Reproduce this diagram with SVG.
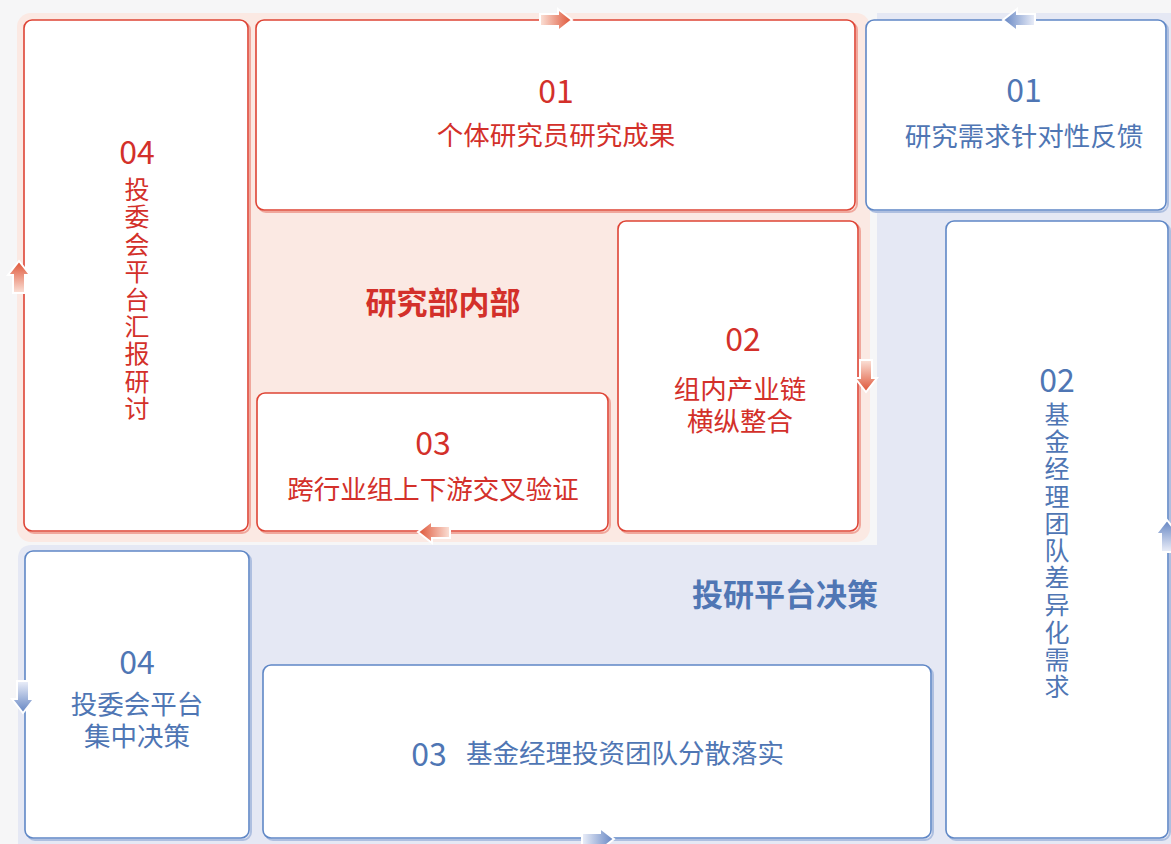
<svg xmlns="http://www.w3.org/2000/svg" width="1171" height="844" viewBox="0 0 1171 844">
<style>
.bg{fill:#f6f6f7}
.rpanel{fill:#fbe9e3}
.bpanel{fill:#e5e8f4}
.rnode{fill:#ffffff;stroke:#de4435;stroke-width:1.6}
.rsh{fill:none;stroke:#f0a79c;stroke-width:2}
.bnode{fill:#ffffff;stroke:#5f87c6;stroke-width:1.6}
.bsh{fill:none;stroke:#aebfe0;stroke-width:2}
.rt{fill:#d3302a;font-family:"Noto Sans CJK SC","Noto Sans",sans-serif;text-anchor:middle}
.bt{fill:#4f76b4;font-family:"Noto Sans CJK SC","Noto Sans",sans-serif;text-anchor:middle}
.num{font-size:32px}
.lbl{font-size:26.5px}
.vl{font-size:25px}
.ttl{font-size:31px;font-weight:700}
.rarrow{fill:url(#rg);stroke:#ffffff;stroke-width:2}
.barrow{fill:url(#bg2);stroke:#ffffff;stroke-width:2}
</style>
<defs>
<linearGradient id="rg" x1="0" y1="0" x2="1" y2="0">
<stop offset="0" stop-color="#fbe2d8"/>
<stop offset="1" stop-color="#de5234"/>
</linearGradient>
<linearGradient id="bg2" x1="0" y1="0" x2="1" y2="0">
<stop offset="0" stop-color="#eceff9"/>
<stop offset="1" stop-color="#6384c2"/>
</linearGradient>
<path id="arr" d="M-16,-6 H2 V-11 L16,0 L2,11 V6 H-16 Z"/>
</defs>
<rect class="bg" x="0" y="0" width="1171" height="844"/>
<path class="bpanel" d="M877,13 H1171 V844 H18 V559 Q18,545 32,545 H877 Z"/>
<rect class="rpanel" x="17" y="13" width="853" height="529" rx="14"/>

<g id="r04">
<rect class="rsh" x="26" y="22" width="224" height="511" rx="8"/>
<rect class="rnode" x="24" y="20" width="224" height="511" rx="8"/>
<text class="rt num" x="137" y="164">04</text>
<text class="rt vl" x="137" y="199"><tspan x="137">投</tspan><tspan x="137" dy="27.4">委</tspan><tspan x="137" dy="27.4">会</tspan><tspan x="137" dy="27.4">平</tspan><tspan x="137" dy="27.4">台</tspan><tspan x="137" dy="27.4">汇</tspan><tspan x="137" dy="27.4">报</tspan><tspan x="137" dy="27.4">研</tspan><tspan x="137" dy="27.4">讨</tspan></text>
</g>
<g id="r01">
<rect class="rsh" x="258" y="22" width="599" height="190" rx="8"/>
<rect class="rnode" x="256" y="20" width="599" height="190" rx="8"/>
<text class="rt num" x="556" y="103">01</text>
<text class="rt lbl" x="556" y="145">个体研究员研究成果</text>
</g>
<g id="r02">
<rect class="rsh" x="620" y="223" width="240" height="310" rx="8"/>
<rect class="rnode" x="618" y="221" width="240" height="310" rx="8"/>
<text class="rt num" x="743" y="351">02</text>
<text class="rt lbl" x="740" y="399">组内产业链</text>
<text class="rt lbl" x="740" y="431">横纵整合</text>
</g>
<g id="r03">
<rect class="rsh" x="259" y="395" width="351" height="138" rx="8"/>
<rect class="rnode" x="257" y="393" width="351" height="138" rx="8"/>
<text class="rt num" x="433" y="455">03</text>
<text class="rt lbl" x="433" y="499">跨行业组上下游交叉验证</text>
</g>
<g id="rtitle">
<text class="rt ttl" x="443" y="314">研究部内部</text>
</g>

<g id="b01">
<rect class="bsh" x="868" y="22" width="300" height="190" rx="8"/>
<rect class="bnode" x="866" y="20" width="300" height="190" rx="8"/>
<text class="bt num" x="1024" y="102">01</text>
<text class="bt lbl" x="1024" y="146">研究需求针对性反馈</text>
</g>
<g id="b02">
<rect class="bsh" x="948" y="223" width="222" height="617" rx="8"/>
<rect class="bnode" x="946" y="221" width="222" height="617" rx="8"/>
<text class="bt num" x="1057" y="392">02</text>
<text class="bt vl" x="1057" y="424"><tspan x="1057">基</tspan><tspan x="1057" dy="27.2">金</tspan><tspan x="1057" dy="27.2">经</tspan><tspan x="1057" dy="27.2">理</tspan><tspan x="1057" dy="27.2">团</tspan><tspan x="1057" dy="27.2">队</tspan><tspan x="1057" dy="27.2">差</tspan><tspan x="1057" dy="27.2">异</tspan><tspan x="1057" dy="27.2">化</tspan><tspan x="1057" dy="27.2">需</tspan><tspan x="1057" dy="27.2">求</tspan></text>
</g>
<g id="b04">
<rect class="bsh" x="27" y="553" width="224" height="287" rx="8"/>
<rect class="bnode" x="25" y="551" width="224" height="287" rx="8"/>
<text class="bt num" x="137" y="674">04</text>
<text class="bt lbl" x="137" y="714">投委会平台</text>
<text class="bt lbl" x="137" y="746">集中决策</text>
</g>
<g id="b03">
<rect class="bsh" x="265" y="667" width="668" height="173" rx="8"/>
<rect class="bnode" x="263" y="665" width="668" height="173" rx="8"/>
<text class="bt num" x="429" y="766">03</text>
<text class="bt lbl" x="625" y="763">基金经理投资团队分散落实</text>
</g>
<g id="btitle">
<text class="bt ttl" x="785" y="606">投研平台决策</text>
</g>

<g id="connectors">
<use href="#arr" class="rarrow" transform="translate(556,20)"/>
<use href="#arr" class="rarrow" transform="translate(866,376) rotate(90)"/>
<use href="#arr" class="rarrow" transform="translate(434,532) rotate(180)"/>
<use href="#arr" class="rarrow" transform="translate(19,277) rotate(-90)"/>
<use href="#arr" class="barrow" transform="translate(1019,20) rotate(180)"/>
<use href="#arr" class="barrow" transform="translate(23,697) rotate(90)"/>
<use href="#arr" class="barrow" transform="translate(598,839)"/>
<use href="#arr" class="barrow" transform="translate(1167,536) rotate(-90)"/>
</g>
</svg>
